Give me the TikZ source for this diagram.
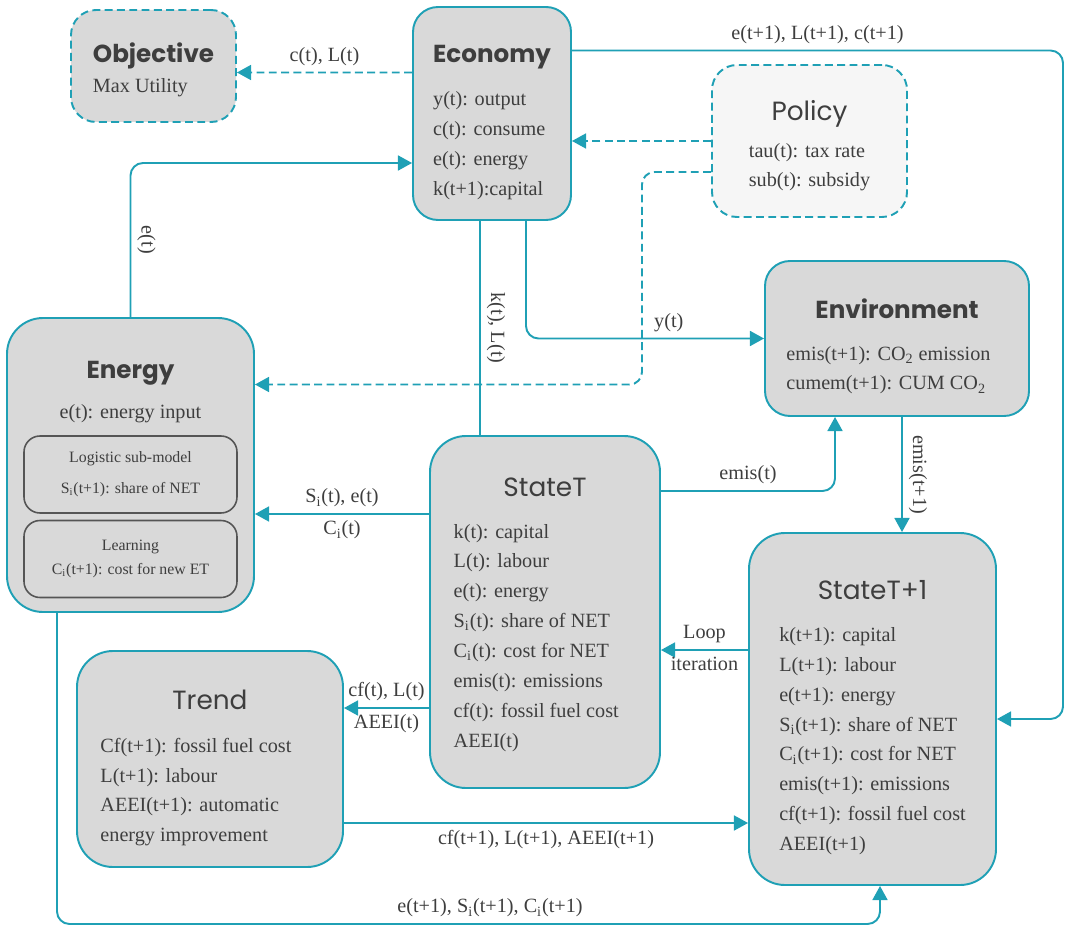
\documentclass[tikz,border=0pt]{standalone}
\usepackage{fontspec}
\setmainfont{Liberation Serif}
\newfontfamily\headfont{Poppins}
\usetikzlibrary{arrows.meta,calc}
\definecolor{flowteal}{RGB}{31,160,181}
\definecolor{boxgray}{RGB}{217,217,217}
\definecolor{policygray}{RGB}{246,246,246}
\definecolor{textgray}{RGB}{62,62,62}
\definecolor{subline}{RGB}{85,85,85}
\newcommand{\boldhead}[3]{\multicolumn{1}{@{}c@{}}{\rule{0pt}{#1}\headfont\bfseries\fontsize{14}{17}\selectfont #2}\\[#3]}
\newcommand{\plainhead}[3]{\multicolumn{1}{@{}c@{}}{\rule{0pt}{#1}\headfont\fontsize{15}{17}\selectfont #2}\\[#3]}
\tikzset{
    >={Triangle[length=8pt,width=8.5pt]},
    box/.style = {
        draw=flowteal,
        fill=boxgray,
        shape=rectangle,
        line width=1.1pt,
        rounded corners=0.5cm,
        inner sep=0pt
    },
    tallbox/.style = {
        box,
        rounded corners=0.72cm
    },
    dashbox/.style = {
        box,
        dash pattern=on 4.5pt off 2.5pt
    },
    subbox/.style = {
        draw=subline,
        fill=boxgray,
        shape=rectangle,
        line width=0.9pt,
        rounded corners=0.32cm,
        minimum width=4.26cm,
        minimum height=1.54cm,
        align=center,
        font=\fontsize{9}{11}\selectfont
    },
    flow/.style = {
        draw=flowteal,
        line width=1.1pt,
        rounded corners=0.25cm
    },
    dashflow/.style = {
        flow,
        dash pattern=on 4.5pt off 2.5pt
    },
}

\begin{document}
\begin{tikzpicture}[font=\fontsize{11.5}{17}\selectfont, text=textgray]
    \useasboundingbox (0,0) rectangle (21.34,18.52);

    \node[dashbox, minimum width=3.3cm, minimum height=2.24cm] (objective) at (3.07,17.2)
        {\begin{tabular}{@{}l@{}}\boldhead{18.2pt}{Objective}{0pt} Max Utility\end{tabular}};
    \node[box, minimum width=3.16cm, minimum height=4.26cm] (economy) at (9.84,16.25)
        {\begin{tabular}{@{}l@{}}\boldhead{22.8pt}{Economy}{7.5pt} y(t): output\\ c(t): consume\\ e(t): energy\\ k(t+1):capital\end{tabular}};
    \node[dashbox, fill=policygray, minimum width=3.9cm, minimum height=3.04cm] (policy) at (16.19,15.7)
        {\begin{tabular}{@{}l@{}}\plainhead{19.4pt}{Policy}{4pt} tau(t): tax rate\\ sub(t): subsidy\end{tabular}};
    \node[tallbox, minimum width=4.94cm, minimum height=5.88cm] (energy) at (2.61,9.22)
        {\begin{tabular}{@{}c@{}}\boldhead{11.9pt}{Energy}{6.3pt} e(t): energy input\\[82.5pt]\end{tabular}};
    \node[subbox] (logistic) at (2.61,9.03) {Logistic sub-model\\[6.6pt] S\textsubscript{i}(t+1): share of NET};
    \node[subbox] (learning) at (2.61,7.34) {Learning\\[2.7pt] C\textsubscript{i}(t+1): cost for new ET};
    \node[box, minimum width=5.28cm, minimum height=3.1cm] (environment) at (17.94,11.75)
        {\begin{tabular}{@{}l@{\hspace{9.7pt}}}\boldhead{22.8pt}{Environment}{6.9pt} emis(t+1): CO\textsubscript{2} emission\\ cumem(t+1): CUM CO\textsubscript{2}\end{tabular}};
    \node[tallbox, minimum width=4.6cm, minimum height=7.04cm] (stateT) at (10.9,6.28)
        {\begin{tabular}{@{}l@{\hspace{10pt}}}\plainhead{16pt}{StateT}{6.9pt} k(t): capital\\ L(t): labour\\ e(t): energy\\ S\textsubscript{i}(t): share of NET\\ C\textsubscript{i}(t): cost for NET\\ emis(t): emissions\\ cf(t): fossil fuel cost\\ AEEI(t)\end{tabular}};
    \node[tallbox, minimum width=4.94cm, minimum height=7.04cm] (stateTnext) at (17.45,4.34)
        {\begin{tabular}{@{}l@{}}\plainhead{23.3pt}{StateT+1}{6.9pt} k(t+1): capital\\ L(t+1): labour\\ e(t+1): energy\\ S\textsubscript{i}(t+1): share of NET\\ C\textsubscript{i}(t+1): cost for NET\\ emis(t+1): emissions\\ cf(t+1): fossil fuel cost\\ AEEI(t+1)\end{tabular}};
    \node[tallbox, minimum width=5.32cm, minimum height=4.32cm] (trend) at (4.2,3.34)
        {\begin{tabular}{@{}l@{\hspace{16pt}}}\plainhead{23.9pt}{Trend}{7.5pt} Cf(t+1): fossil fuel cost\\ L(t+1): labour\\ AEEI(t+1): automatic\\ energy improvement\end{tabular}};

    \path[dashflow, ->] ([yshift=0.82cm]economy.west) -- ([yshift=-0.13cm]objective.east) node [midway, above] {c(t), L(t)};
    \path[dashflow, ->] (policy.west) -- ([yshift=-0.55cm]economy.east);
    \path[dashflow, ->] ([yshift=-0.62cm]policy.west) -| (12.84,12) |- ([yshift=1.61cm]energy.east);

    \path[flow, ->] (energy.north) |- ([yshift=-0.99cm]economy.west) node [pos=0.25, rotate=-90, anchor=south] {e(t)};
    \path[flow] ([xshift=-0.24cm]economy.south) -- ([xshift=-1.3cm]stateT.north) node [midway, rotate=-90, anchor=south] {k(t), L(t)};
    \path[flow, ->] ([xshift=0.68cm]economy.south) |- (environment.west) node [pos=0.8, above] {y(t)};
    \path[flow, ->] ([yshift=1.26cm]economy.east) -| node [pos=0.25, above] {e(t+1), L(t+1), c(t+1)} (21.26,10) |- ([yshift=-0.2cm]stateTnext.east);

    \path[flow, ->] ([yshift=2.42cm]stateT.east) -| ([xshift=-1.24cm]environment.south) node [pos=0.25, above] {emis(t)};
    \path[flow, ->] ([xshift=0.1cm]environment.south) -- ([xshift=0.59cm]stateTnext.north) node [midway, rotate=-90, anchor=south] {emis(t+1)};

    \path[flow, ->] ([yshift=1.18cm]stateTnext.west) -- ([yshift=-0.76cm]stateT.east) node [midway, above] {Loop} node [midway, below] {iteration};
    \path[flow, ->] ([yshift=1.96cm]stateT.west) -- ([yshift=-0.98cm]energy.east) node [midway, above] {S\textsubscript{i}(t), e(t)} node [midway, below] {C\textsubscript{i}(t)};
    \path[flow, ->] ([yshift=-1.92cm]stateT.west) -- ([yshift=1.02cm]trend.east) node [midway, above] {cf(t), L(t)} node [midway, below] {AEEI(t)};
    \path[flow, ->] ([yshift=-1.28cm]trend.east) -- ([yshift=-2.28cm]stateTnext.west) node [midway, below] {cf(t+1), L(t+1), AEEI(t+1)};

    \path[flow, ->] ([xshift=-1.47cm]energy.south) |- (9.8,0.04) node [above] {e(t+1), S\textsubscript{i}(t+1), C\textsubscript{i}(t+1)} -| ([xshift=0.15cm]stateTnext.south);

\end{tikzpicture}
\end{document}
